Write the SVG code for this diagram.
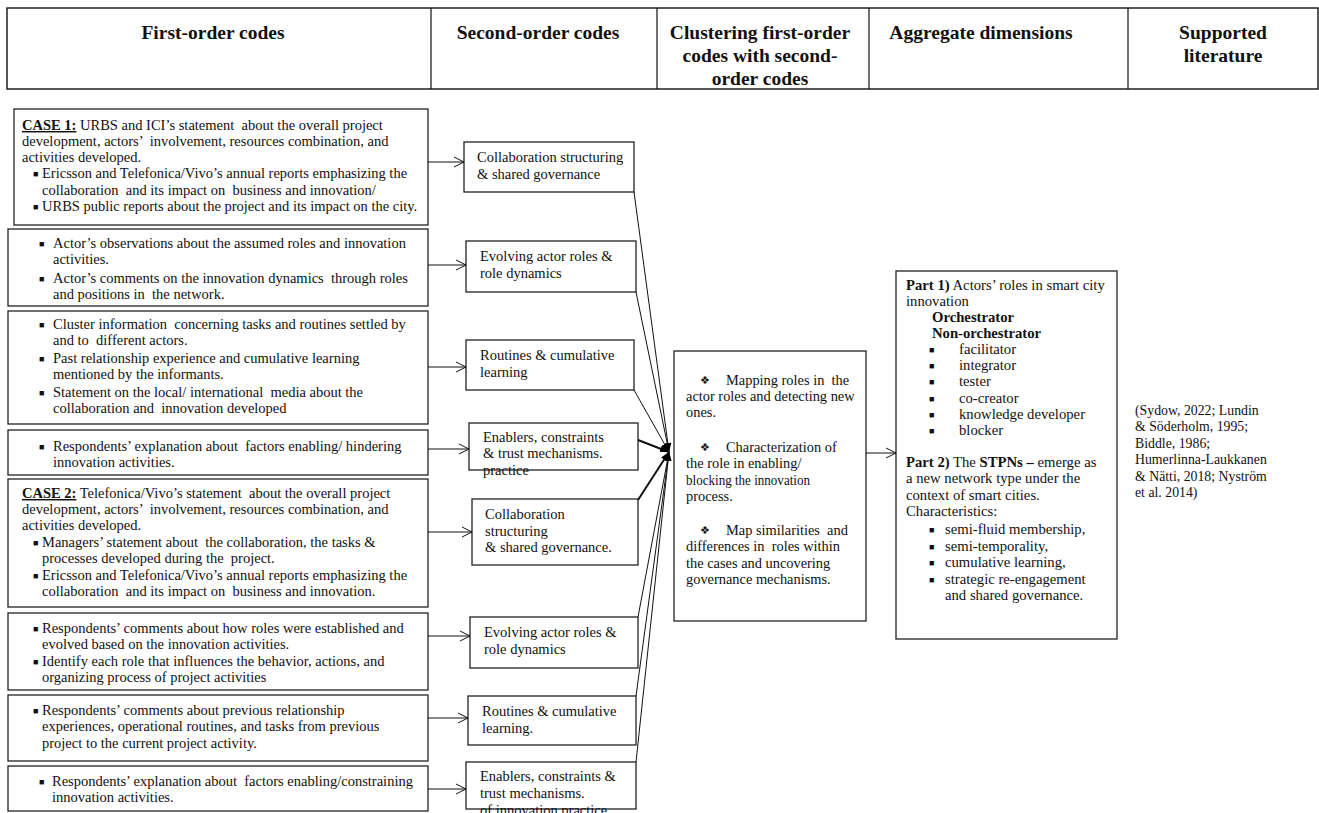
<svg xmlns="http://www.w3.org/2000/svg" width="1319" height="813" viewBox="0 0 1319 813">
<defs>
<style>
text{font-family:"Liberation Serif","Times New Roman",serif;font-size:14.5px;fill:#111;white-space:pre}
.h{font-weight:bold;font-size:19.5px;text-anchor:middle}
.b{font-weight:bold}
.u{font-weight:bold;text-decoration:underline}
.bul{font-size:9px}
.c{font-size:14.4px}
.r{font-size:14.7px}
.lit{font-size:13.8px}
.dia{font-family:"DejaVu Sans",sans-serif;font-size:11px}
.box{fill:#fff;stroke:#222;stroke-width:1.3}
.ln{fill:none;stroke:#111;stroke-width:1}
.thick{stroke-width:2}
</style>
<marker id="open" viewBox="0 0 12 12" refX="11" refY="6" markerWidth="12" markerHeight="12" markerUnits="userSpaceOnUse" orient="auto">
<path d="M1,1 L11,6 L1,11" fill="none" stroke="#111" stroke-width="1"/>
</marker>
<marker id="fill" viewBox="0 0 10 10" refX="10" refY="5" markerWidth="9" markerHeight="9" markerUnits="userSpaceOnUse" orient="auto">
<path d="M0,1 L10,5 L0,9 Z" fill="#000"/>
</marker>
</defs>
<rect width="1319" height="813" fill="#fff"/>

<g id="header">
<rect x="7" y="8" width="1311" height="81" fill="#fff" stroke="#111" stroke-width="1.4"/>
<line x1="431" y1="8" x2="431" y2="89" stroke="#111" stroke-width="1.2"/>
<line x1="657" y1="8" x2="657" y2="89" stroke="#111" stroke-width="1.2"/>
<line x1="869" y1="8" x2="869" y2="89" stroke="#111" stroke-width="1.2"/>
<line x1="1128" y1="8" x2="1128" y2="89" stroke="#111" stroke-width="1.2"/>
<text class="h" x="213" y="39">First-order codes</text>
<text class="h" x="538" y="39">Second-order codes</text>
<text class="h" x="760" y="39">Clustering first-order</text>
<text class="h" x="760" y="62">codes with second-</text>
<text class="h" x="760" y="85">order codes</text>
<text class="h" x="981" y="39">Aggregate dimensions</text>
<text class="h" x="1223" y="39">Supported</text>
<text class="h" x="1223" y="62">literature</text>
</g>

<g id="f1">
<rect class="box" x="14" y="109" width="414" height="116"/>
<text x="22" y="130"><tspan class="u">CASE 1:</tspan> URBS and ICI’s statement  about the overall project</text>
<text x="22" y="146">development, actors’  involvement, resources combination, and</text>
<text x="22" y="162">activities developed.</text>
<text class="bul" x="33" y="177">■</text>
<text x="42" y="178">Ericsson and Telefonica/Vivo’s annual reports emphasizing the</text>
<text x="42" y="195">collaboration  and its impact on  business and innovation/</text>
<text class="bul" x="33" y="210">■</text>
<text x="42" y="211">URBS public reports about the project and its impact on the city.</text>
</g>

<g id="f2">
<rect class="box" x="8" y="229" width="420" height="77"/>
<text class="bul" x="39" y="247">■</text>
<text x="53" y="248">Actor’s observations about the assumed roles and innovation</text>
<text x="53" y="264">activities.</text>
<text class="bul" x="39" y="282">■</text>
<text x="53" y="283">Actor’s comments on the innovation dynamics  through roles</text>
<text x="53" y="299">and positions in  the network.</text>
</g>

<g id="f3">
<rect class="box" x="8" y="311" width="420" height="113"/>
<text class="bul" x="39" y="328">■</text>
<text x="53" y="329">Cluster information  concerning tasks and routines settled by</text>
<text x="53" y="345">and to  different actors.</text>
<text class="bul" x="39" y="362">■</text>
<text x="53" y="363">Past relationship experience and cumulative learning</text>
<text x="53" y="379">mentioned by the informants.</text>
<text class="bul" x="39" y="396">■</text>
<text x="53" y="397">Statement on the local/ international  media about the</text>
<text x="53" y="413">collaboration and  innovation developed</text>
</g>

<g id="f4">
<rect class="box" x="8" y="430" width="420" height="45"/>
<text class="bul" x="39" y="450">■</text>
<text x="53" y="451">Respondents’ explanation about  factors enabling/ hindering</text>
<text x="53" y="467">innovation activities.</text>
</g>

<g id="f5">
<rect class="box" x="8" y="479" width="420" height="128"/>
<text x="22" y="498"><tspan class="u">CASE 2:</tspan> Telefonica/Vivo’s statement  about the overall project</text>
<text x="22" y="514">development, actors’  involvement, resources combination, and</text>
<text x="22" y="530">activities developed.</text>
<text class="bul" x="33" y="546">■</text>
<text x="42" y="547">Managers’ statement about  the collaboration, the tasks &amp;</text>
<text x="42" y="563">processes developed during the  project.</text>
<text class="bul" x="33" y="579">■</text>
<text x="42" y="580">Ericsson and Telefonica/Vivo’s annual reports emphasizing the</text>
<text x="42" y="596">collaboration  and its impact on  business and innovation.</text>
</g>

<g id="f6">
<rect class="box" x="8" y="613" width="420" height="77"/>
<text class="bul" x="33" y="632">■</text>
<text x="42" y="633">Respondents’ comments about how roles were established and</text>
<text x="42" y="649">evolved based on the innovation activities.</text>
<text class="bul" x="33" y="665">■</text>
<text x="42" y="666">Identify each role that influences the behavior, actions, and</text>
<text x="42" y="682">organizing process of project activities</text>
</g>

<g id="f7">
<rect class="box" x="8" y="695" width="420" height="66"/>
<text class="bul" x="33" y="714">■</text>
<text x="42" y="715">Respondents’ comments about previous relationship</text>
<text x="42" y="731">experiences, operational routines, and tasks from previous</text>
<text x="42" y="748">project to the current project activity.</text>
</g>

<g id="f8">
<rect class="box" x="8" y="766" width="420" height="45"/>
<text class="bul" x="39" y="785">■</text>
<text x="52" y="786">Respondents’ explanation about  factors enabling/constraining</text>
<text x="52" y="802">innovation activities.</text>
</g>

<g id="s1">
<rect class="box" x="464" y="142" width="170" height="50"/>
<text x="477" y="162">Collaboration structuring</text>
<text x="477" y="179">&amp; shared governance</text>
</g>
<g id="s2">
<rect class="box" x="466" y="241" width="170" height="51"/>
<text x="480" y="261">Evolving actor roles &amp;</text>
<text x="480" y="278">role dynamics</text>
</g>
<g id="s3">
<rect class="box" x="466" y="340" width="168" height="50"/>
<text x="480" y="360">Routines &amp; cumulative</text>
<text x="480" y="377">learning</text>
</g>
<g id="s4">
<rect class="box" x="469" y="423" width="169" height="47"/>
<text x="483" y="442">Enablers, constraints</text>
<text x="483" y="458">&amp; trust mechanisms.</text>
<text x="483" y="475">practice</text>
</g>
<g id="s5">
<rect class="box" x="472" y="499" width="166" height="66"/>
<text x="485" y="519">Collaboration</text>
<text x="485" y="536">structuring</text>
<text x="485" y="552">&amp; shared governance.</text>
</g>
<g id="s6">
<rect class="box" x="470" y="617" width="168" height="51"/>
<text x="484" y="637">Evolving actor roles &amp;</text>
<text x="484" y="654">role dynamics</text>
</g>
<g id="s7">
<rect class="box" x="468" y="696" width="168" height="49"/>
<text x="482" y="716">Routines &amp; cumulative</text>
<text x="482" y="733">learning.</text>
</g>
<g id="s8">
<rect class="box" x="466" y="762" width="170" height="47"/>
<text x="480" y="781">Enablers, constraints &amp;</text>
<text x="480" y="798">trust mechanisms.</text>
<text x="480" y="815">of innovation practice</text>
</g>

<g id="cluster">
<rect class="box" x="674" y="351" width="192" height="270"/>
<text class="dia" x="700" y="384">❖&#xFE0E;</text>
<text class="c" x="726" y="385">Mapping roles in  the</text>
<text class="c" x="686" y="401">actor roles and detecting new</text>
<text class="c" x="686" y="417">ones.</text>
<text class="dia" x="700" y="451">❖&#xFE0E;</text>
<text class="c" x="726" y="452">Characterization of</text>
<text class="c" x="686" y="468">the role in enabling/</text>
<text class="c" x="686" y="485" textLength="124" lengthAdjust="spacingAndGlyphs">blocking the innovation</text>
<text class="c" x="686" y="501">process.</text>
<text class="dia" x="700" y="534">❖&#xFE0E;</text>
<text class="c" x="726" y="535">Map similarities  and</text>
<text class="c" x="686" y="551">differences in  roles within</text>
<text class="c" x="686" y="568">the cases and uncovering</text>
<text class="c" x="686" y="584">governance mechanisms.</text>
</g>

<g id="aggregate">
<rect class="box" x="896" y="271" width="221" height="368"/>
<text class="r" x="906" y="290"><tspan class="b">Part 1)</tspan> Actors’ roles in smart city</text>
<text class="r" x="906" y="306">innovation</text>
<text class="r b" x="932" y="322">Orchestrator</text>
<text class="r b" x="932" y="338">Non-orchestrator</text>
<text class="bul" x="929" y="353">■</text><text class="r" x="959" y="354">facilitator</text>
<text class="bul" x="929" y="369">■</text><text class="r" x="959" y="370">integrator</text>
<text class="bul" x="929" y="385">■</text><text class="r" x="959" y="386">tester</text>
<text class="bul" x="929" y="402">■</text><text class="r" x="959" y="403">co-creator</text>
<text class="bul" x="929" y="418">■</text><text class="r" x="959" y="419">knowledge developer</text>
<text class="bul" x="929" y="434">■</text><text class="r" x="959" y="435">blocker</text>
<text class="r" x="906" y="467"><tspan class="b">Part 2)</tspan> The <tspan class="b">STPNs –</tspan> emerge as</text>
<text class="r" x="906" y="483">a new network type under the</text>
<text class="r" x="906" y="500">context of smart cities.</text>
<text class="r" x="906" y="516">Characteristics:</text>
<text class="bul" x="929" y="533">■</text><text class="r" x="945" y="534">semi-fluid membership,</text>
<text class="bul" x="929" y="550">■</text><text class="r" x="945" y="551">semi-temporality,</text>
<text class="bul" x="929" y="566">■</text><text class="r" x="945" y="567">cumulative learning,</text>
<text class="bul" x="929" y="583">■</text><text class="r" x="945" y="584">strategic re-engagement</text>
<text class="r" x="945" y="600">and shared governance.</text>
</g>

<g id="literature">
<text class="lit" x="1135" y="415">(Sydow, 2022; Lundin</text>
<text class="lit" x="1135" y="431">&amp; Söderholm, 1995;</text>
<text class="lit" x="1135" y="448">Biddle, 1986;</text>
<text class="lit" x="1135" y="464">Humerlinna-Laukkanen</text>
<text class="lit" x="1135" y="481">&amp; Nätti, 2018; Nyström</text>
<text class="lit" x="1135" y="497">et al. 2014)</text>
</g>

<g id="connectors">
<line class="ln" x1="428" y1="162" x2="464" y2="162" marker-end="url(#open)"/>
<line class="ln" x1="428" y1="265" x2="466" y2="265" marker-end="url(#open)"/>
<line class="ln" x1="428" y1="367" x2="466" y2="367" marker-end="url(#open)"/>
<line class="ln" x1="428" y1="449" x2="469" y2="449" marker-end="url(#open)"/>
<line class="ln" x1="428" y1="532" x2="472" y2="532" marker-end="url(#open)"/>
<line class="ln" x1="428" y1="636" x2="470" y2="636" marker-end="url(#open)"/>
<line class="ln" x1="428" y1="718" x2="468" y2="718" marker-end="url(#open)"/>
<line class="ln" x1="428" y1="789" x2="466" y2="789" marker-end="url(#open)"/>
<line class="ln" x1="634" y1="192" x2="669" y2="452" marker-end="url(#fill)"/>
<line class="ln" x1="636" y1="292" x2="669" y2="452" marker-end="url(#fill)"/>
<line class="ln" x1="634" y1="390" x2="669" y2="452" marker-end="url(#fill)"/>
<line class="ln thick" x1="638" y1="440" x2="669" y2="452" marker-end="url(#fill)"/>
<line class="ln thick" x1="638" y1="500" x2="669" y2="452" marker-end="url(#fill)"/>
<line class="ln" x1="638" y1="617" x2="669" y2="452" marker-end="url(#fill)"/>
<line class="ln" x1="636" y1="696" x2="669" y2="452" marker-end="url(#fill)"/>
<line class="ln" x1="636" y1="762" x2="669" y2="452" marker-end="url(#fill)"/>
<line class="ln" x1="866" y1="453" x2="896" y2="453" marker-end="url(#open)"/>
</g>
</svg>
